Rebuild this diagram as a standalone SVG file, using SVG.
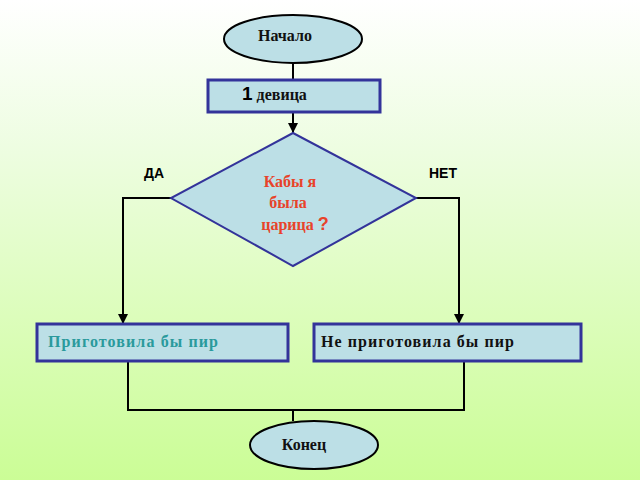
<svg xmlns="http://www.w3.org/2000/svg" width="640" height="480" viewBox="0 0 640 480">
<defs>
<linearGradient id="bg" x1="0" y1="0" x2="0" y2="1">
<stop offset="0" stop-color="#ffffff"/>
<stop offset="0.3" stop-color="#eefde2"/>
<stop offset="1" stop-color="#cbfd96"/>
</linearGradient>
<marker id="arr" viewBox="0 0 10 14" refX="10" refY="7" markerWidth="10" markerHeight="14" markerUnits="userSpaceOnUse" orient="auto">
<path d="M0,2 L10,7 L0,12 Z" fill="#000"/>
</marker>
<style>
.term{fill:#bcdfe6;stroke:#000;stroke-width:2}
.box{fill:#bcdfe6;stroke:#33339a;stroke-width:3}
.dia{fill:#bcdfe6;stroke:#33339a;stroke-width:2}
.con{fill:none;stroke:#000;stroke-width:2}
.t{font-family:"Liberation Serif","Times New Roman",serif;font-weight:bold;font-size:16px;fill:#111}
.s{font-family:"Liberation Sans","DejaVu Sans",sans-serif;font-weight:bold}
.red{fill:#e8432a}
</style>
</defs>
<rect width="640" height="480" fill="url(#bg)"/>
<g id="connectors">
<line class="con" x1="293" y1="62" x2="293" y2="80"/>
<line class="con" x1="293" y1="112" x2="293" y2="133" marker-end="url(#arr)"/>
<polyline class="con" points="172,198 123,198 123,324" marker-end="url(#arr)"/>
<polyline class="con" points="416,198 459,198 459,324" marker-end="url(#arr)"/>
<polyline class="con" points="128,362 128,410 464,410 464,362"/>
<line class="con" x1="293" y1="410" x2="293" y2="421"/>
</g>
<g id="start">
<ellipse class="term" cx="293" cy="39" rx="69" ry="24"/>
<text class="t" x="285" y="41" text-anchor="middle" font-size="16">Начало</text>
</g>
<g id="init">
<rect class="box" x="208" y="80" width="172" height="32"/>
<text class="t" x="242" y="100" font-size="17"><tspan class="s" font-size="19" font-weight="900" fill="#000">1</tspan> девица</text>
</g>
<g id="decision">
<polygon class="dia" points="293,133 416,198 293,266 171,198"/>
<text class="t red" x="290" y="187" text-anchor="middle" font-size="17">Кабы я</text>
<text class="t red" x="288" y="208" text-anchor="middle" font-size="17">была</text>
<text class="t red" x="295" y="230" text-anchor="middle" font-size="17">царица <tspan class="s" font-weight="900" font-size="18">?</tspan></text>
</g>
<g id="label-yes">
<text class="s" x="144" y="178" font-size="14" font-weight="normal" fill="#000">ДА</text>
</g>
<g id="label-no">
<text class="s" x="429" y="178" font-size="14" font-weight="normal" fill="#000">НЕТ</text>
</g>
<g id="yes-box">
<rect class="box" x="37" y="324" width="251" height="37"/>
<text class="t" x="48" y="347" font-size="18" style="fill:#2a9a9c" textLength="170">Приготовила бы пир</text>
</g>
<g id="no-box">
<rect class="box" x="314" y="324" width="267" height="37"/>
<text class="t" x="321" y="347" font-size="18" textLength="193">Не приготовила бы пир</text>
</g>
<g id="end">
<ellipse class="term" cx="314" cy="445" rx="64" ry="24"/>
<text class="t" x="304" y="450" text-anchor="middle" font-size="16">Конец</text>
</g>
</svg>
